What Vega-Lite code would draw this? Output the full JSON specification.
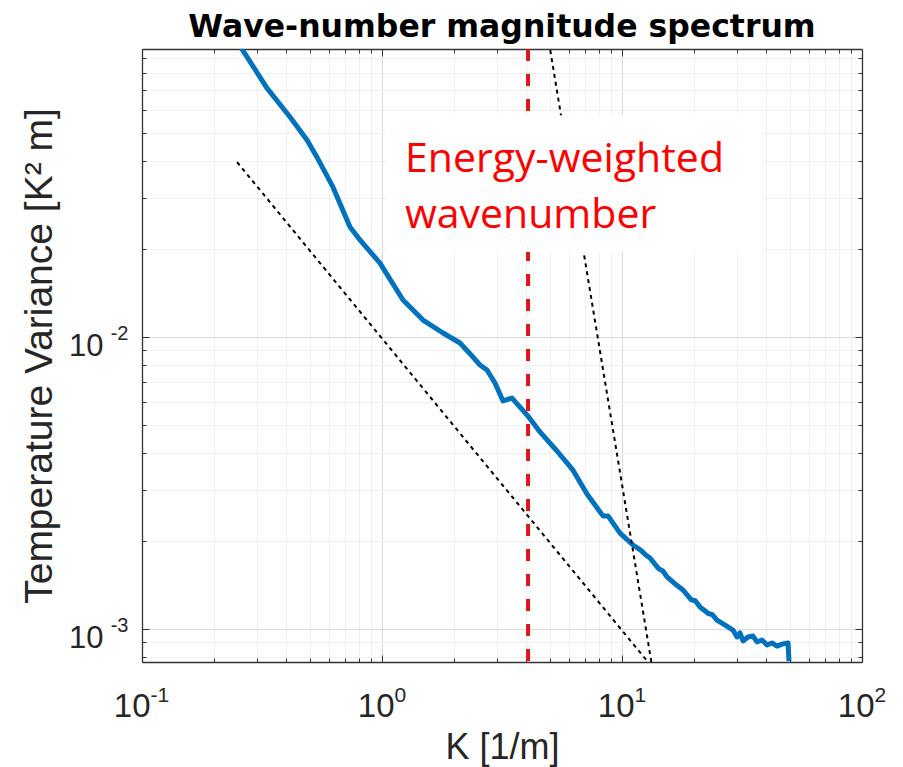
{
  "$schema": "https://vega.github.io/schema/vega-lite/v6.json",
  "width": 720,
  "height": 613,
  "autosize": "none",
  "padding": {"left": 142, "top": 49, "right": 41, "bottom": 105},
  "background": "white",
  "title": {"text": "Wave-number magnitude spectrum", "font": "DejaVu Sans", "fontSize": 31.5, "fontWeight": "bold", "color": "#000000", "anchor": "middle", "offset": 4},
  "config": {"view": {"stroke": null}},
  "datasets": {
    "spectrum": [
      {"K": 0.256, "V": 0.0992},
      {"K": 0.3318, "V": 0.0712},
      {"K": 0.4137, "V": 0.0567},
      {"K": 0.487, "V": 0.0473},
      {"K": 0.5359, "V": 0.0413},
      {"K": 0.625, "V": 0.0326},
      {"K": 0.7356, "V": 0.0238},
      {"K": 0.8096, "V": 0.0215},
      {"K": 0.981, "V": 0.0179},
      {"K": 1.2232, "V": 0.01339},
      {"K": 1.4822, "V": 0.01143},
      {"K": 1.796, "V": 0.01032},
      {"K": 2.1135, "V": 0.00954},
      {"K": 2.3944, "V": 0.00854},
      {"K": 2.5604, "V": 0.00802},
      {"K": 2.7384, "V": 0.00771},
      {"K": 2.9563, "V": 0.00696},
      {"K": 3.1929, "V": 0.00604},
      {"K": 3.4808, "V": 0.00618},
      {"K": 4.0568, "V": 0.00536},
      {"K": 4.5525, "V": 0.00473},
      {"K": 5.3596, "V": 0.00407},
      {"K": 6.25, "V": 0.0035},
      {"K": 7.1468, "V": 0.0029},
      {"K": 8.3311, "V": 0.00244},
      {"K": 8.7444, "V": 0.00244},
      {"K": 9.8098, "V": 0.00213},
      {"K": 11.113, "V": 0.00194},
      {"K": 12.0, "V": 0.00186},
      {"K": 12.6, "V": 0.00179},
      {"K": 13.085, "V": 0.00175},
      {"K": 14.2, "V": 0.00161},
      {"K": 14.8, "V": 0.00158},
      {"K": 15.399, "V": 0.00151},
      {"K": 16.6, "V": 0.00143},
      {"K": 17.96, "V": 0.00136},
      {"K": 19.4, "V": 0.00126},
      {"K": 20.2, "V": 0.00125},
      {"K": 21.135, "V": 0.00119},
      {"K": 22.9, "V": 0.00113},
      {"K": 23.8, "V": 0.00112},
      {"K": 24.879, "V": 0.001073},
      {"K": 27.0, "V": 0.00103},
      {"K": 29.005, "V": 0.000992},
      {"K": 30.15, "V": 0.000939},
      {"K": 31.01, "V": 0.000969},
      {"K": 31.93, "V": 0.00091},
      {"K": 33.5, "V": 0.000939},
      {"K": 35.14, "V": 0.000946},
      {"K": 36.52, "V": 0.000903},
      {"K": 38.31, "V": 0.000917},
      {"K": 40.2, "V": 0.000882},
      {"K": 42.17, "V": 0.000896},
      {"K": 44.23, "V": 0.000874},
      {"K": 46.42, "V": 0.000888},
      {"K": 49.18, "V": 0.000896},
      {"K": 49.64, "V": 0.000777}
    ],
    "fits": [
      {"s": "k^-1", "K": 0.249, "V": 0.0397},
      {"s": "k^-1", "K": 13.0, "V": 0.000761},
      {"s": "k^-5", "K": 4.9, "V": 0.1087},
      {"s": "k^-5", "K": 13.4, "V": 0.00073}
    ],
    "ew": [{"K": 4.06}]
  },
  "layer": [
    {
      "data": {"name": "spectrum"},
      "mark": {"type": "line", "color": "#0072BD", "strokeWidth": 5, "strokeJoin": "round", "clip": true},
      "encoding": {
        "x": {
          "field": "K", "type": "quantitative",
          "scale": {"type": "log", "domain": [0.1, 100], "nice": false},
          "axis": {
            "orient": "bottom",
            "title": "K [1/m]",
            "titleFont": "Liberation Sans", "titleFontSize": 36, "titleFontWeight": "normal", "titleColor": "#262626", "titlePadding": 4,
            "values": [0.1,0.2,0.3,0.4,0.5,0.6,0.7,0.8,0.9,1,2,3,4,5,6,7,8,9,10,20,30,40,50,60,70,80,90,100],
            "labelExpr": "datum.value == 0.1 || datum.value == 1 || datum.value == 10 || datum.value == 100 ? '10' : ''",
            "labelFont": "Liberation Sans", "labelFontSize": 33, "labelColor": "#262626",
            "labelAlign": "right", "labelBaseline": "alphabetic",
            "labelOffset": {"condition": {"test": "datum.value == 0.1", "value": 8}, "value": 12},
            "labelOverlap": false, "labelFlush": false, "labelBound": false, "labelPadding": 61,
            "grid": true,
            "gridColor": {"condition": {"test": "datum.value == 0.1 || datum.value == 1 || datum.value == 10 || datum.value == 100", "value": "#d9d9d9"}, "value": "#efefef"},
            "gridWidth": 1,
            "tickSize": {"condition": {"test": "datum.value == 0.1 || datum.value == 1 || datum.value == 10 || datum.value == 100", "value": -7}, "value": -4},
            "tickColor": "#333333", "tickWidth": 1,
            "domainColor": "#333333", "domainWidth": 1.3
          }
        },
        "y": {
          "field": "V", "type": "quantitative",
          "scale": {"type": "log", "domain": [0.000771, 0.0969], "nice": false},
          "axis": {
            "orient": "left",
            "title": "Temperature Variance [K² m]",
            "titleFont": "Liberation Sans", "titleFontSize": 39, "titleFontWeight": "normal", "titleColor": "#262626", "titlePadding": 9,
            "values": [0.0008,0.0009,0.001,0.002,0.003,0.004,0.005,0.006,0.007,0.008,0.009,0.01,0.02,0.03,0.04,0.05,0.06,0.07,0.08,0.09],
            "labelExpr": "datum.value == 0.01 || datum.value == 0.001 ? '10' : ''",
            "labelFont": "Liberation Sans", "labelFontSize": 31, "labelColor": "#262626",
            "labelAlign": "right", "labelBaseline": "alphabetic", "labelOffset": 18,
            "labelOverlap": false, "labelFlush": false, "labelBound": false, "labelPadding": 46,
            "grid": true,
            "gridColor": {"condition": {"test": "datum.value == 0.01 || datum.value == 0.001", "value": "#d9d9d9"}, "value": "#efefef"},
            "gridWidth": 1,
            "tickSize": {"condition": {"test": "datum.value == 0.01 || datum.value == 0.001", "value": -7}, "value": -4},
            "tickColor": "#333333", "tickWidth": 1,
            "domainColor": "#333333", "domainWidth": 1.3
          }
        }
      }
    },
    {
      "data": {"name": "fits"},
      "mark": {"type": "line", "color": "#000000", "strokeWidth": 2, "strokeDash": [4, 4], "clip": true},
      "encoding": {
        "detail": {"field": "s", "type": "nominal"},
        "x": {
          "field": "K", "type": "quantitative",
          "scale": {"type": "log", "domain": [0.1, 100], "nice": false},
          "axis": {
            "orient": "top", "title": null, "labels": false, "grid": false,
            "values": [0.1,0.2,0.3,0.4,0.5,0.6,0.7,0.8,0.9,1,2,3,4,5,6,7,8,9,10,20,30,40,50,60,70,80,90,100],
            "tickSize": {"condition": {"test": "datum.value == 0.1 || datum.value == 1 || datum.value == 10 || datum.value == 100", "value": -7}, "value": -4},
            "tickColor": "#333333", "tickWidth": 1,
            "domainColor": "#333333", "domainWidth": 1.3
          }
        },
        "y": {
          "field": "V", "type": "quantitative",
          "scale": {"type": "log", "domain": [0.000771, 0.0969], "nice": false},
          "axis": {
            "orient": "right", "title": null, "labels": false, "grid": false,
            "values": [0.0008,0.0009,0.001,0.002,0.003,0.004,0.005,0.006,0.007,0.008,0.009,0.01,0.02,0.03,0.04,0.05,0.06,0.07,0.08,0.09],
            "tickSize": {"condition": {"test": "datum.value == 0.01 || datum.value == 0.001", "value": -7}, "value": -4},
            "tickColor": "#333333", "tickWidth": 1,
            "domainColor": "#333333", "domainWidth": 1.3
          }
        }
      }
    },
    {
      "data": {"name": "ew"},
      "mark": {"type": "rule", "color": "#e0151b", "strokeWidth": 4, "strokeDash": [12, 13]},
      "encoding": {
        "x": {
          "field": "K", "type": "quantitative",
          "scale": {"type": "log", "domain": [0.1, 100], "nice": false},
          "axis": {
            "orient": "bottom", "title": null, "grid": false, "ticks": false, "domain": false,
            "values": [0.1, 1, 10, 100],
            "labelExpr": "datum.value == 0.1 ? '-1' : datum.value == 1 ? '0' : datum.value == 10 ? '1' : datum.value == 100 ? '2' : ''",
            "labelFont": "Liberation Sans", "labelFontSize": 21, "labelColor": "#262626",
            "labelAlign": "left", "labelBaseline": "alphabetic",
            "labelOffset": {"condition": {"test": "datum.value == 0.1", "value": 8}, "value": 12},
            "labelOverlap": false, "labelFlush": false, "labelBound": false, "labelPadding": 39
          }
        }
      }
    },
    {
      "data": {"values": [{}]},
      "mark": {"type": "rect", "color": "#ffffff", "opacity": 1},
      "encoding": {
        "x": {"datum": 1.04, "type": "quantitative", "scale": {"type": "log", "domain": [0.1, 100], "nice": false}, "axis": null},
        "x2": {"datum": 38.3},
        "y": {
          "datum": 0.0575, "type": "quantitative",
          "scale": {"type": "log", "domain": [0.000771, 0.0969], "nice": false},
          "axis": {
            "orient": "left", "title": null, "grid": false, "ticks": false, "domain": false,
            "values": [0.001, 0.01],
            "labelExpr": "datum.value == 0.01 ? '-2' : datum.value == 0.001 ? '-3' : ''",
            "labelFont": "Liberation Sans", "labelFontSize": 20, "labelColor": "#262626",
            "labelAlign": "right", "labelBaseline": "alphabetic", "labelOffset": 2,
            "labelOverlap": false, "labelFlush": false, "labelBound": false, "labelPadding": 14
          }
        },
        "y2": {"datum": 0.01954}
      }
    },
    {
      "data": {"values": [{}]},
      "mark": {"type": "text", "text": ["Energy-weighted", "wavenumber"], "font": "Open Sans", "fontSize": 41, "color": "#ff0000", "align": "left", "baseline": "alphabetic", "lineHeight": 56},
      "encoding": {
        "x": {"datum": 1.2468, "type": "quantitative", "scale": {"type": "log", "domain": [0.1, 100], "nice": false}, "axis": null},
        "y": {"datum": 0.03674, "type": "quantitative", "scale": {"type": "log", "domain": [0.000771, 0.0969], "nice": false}, "axis": null}
      }
    }
  ],
  "resolve": {"axis": {"x": "independent", "y": "independent"}}
}
